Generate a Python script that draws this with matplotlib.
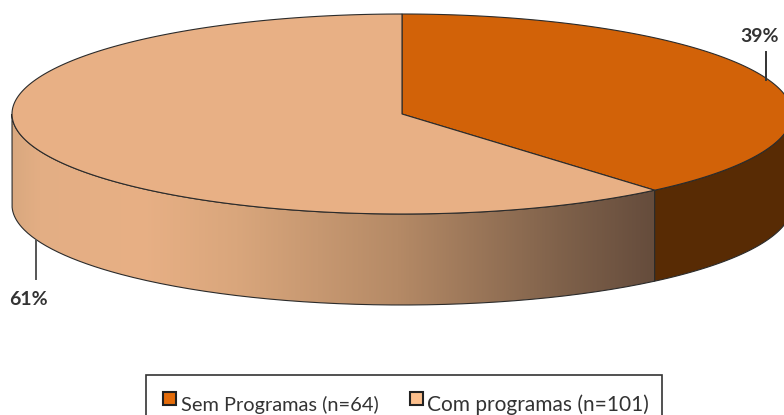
import numpy as np
import matplotlib
matplotlib.use("Agg")
import matplotlib.pyplot as plt
from matplotlib.colors import LinearSegmentedColormap
from matplotlib.patches import Polygon, Rectangle, PathPatch
from matplotlib.path import Path

# Data
labels = ['Sem Programas (n=64)', 'Com programas (n=101)']
counts = [64, 101]
pct_labels = ['39%', '61%']
top_colors = ['#D26208', '#E8B085']
legend_colors = ['#E46C0A', '#FCBF8C']
dark_side = '#582B04'

# Pie geometry in pixels
cx, cy = 402, 114
rx, ry = 390, 100
depth = 91
edge = '#2b2b2b'

plt.rcParams['font.family'] = ['Lato', 'DejaVu Sans']

fig = plt.figure(figsize=(7.84, 4.15), dpi=100)
ax = fig.add_axes([0, 0, 1, 1])
ax.set_xlim(0, 784)
ax.set_ylim(415, 0)
ax.axis('off')


def rim(a0, a1, n=200, dy=0):
    # angles are clockwise from 12 o'clock
    t = np.linspace(a0, a1, n)
    return np.column_stack([cx + rx * np.sin(t), cy - ry * np.cos(t) + dy])


split = 2 * np.pi * counts[0] / sum(counts)

# Sides: only the part of the rim facing the viewer
right_side = np.vstack([rim(np.pi / 2, split), rim(split, np.pi / 2, dy=depth)])
ax.add_patch(Polygon(right_side, closed=True, fc=dark_side, ec=edge, lw=0.8, zorder=2))

left_side = np.vstack([rim(split, 3 * np.pi / 2), rim(3 * np.pi / 2, split, dy=depth)])
cmap = LinearSegmentedColormap.from_list('side', [
    (0.00, '#D9A87F'),
    (0.04, '#E3AE84'),
    (0.20, '#E8B085'),
    (0.35, '#D9A67C'),
    (0.60, '#B58A66'),
    (0.85, '#80624B'),
    (1.00, '#654C3C'),
])
x_left, x_right = cx - rx, cx + rx * np.sin(split)
img = ax.imshow(np.linspace(0, 1, 256).reshape(1, -1), cmap=cmap, aspect='auto', zorder=2,
                extent=[x_left, x_right, cy + ry + depth, cy - ry])
clip = PathPatch(Path(np.vstack([left_side, left_side[:1]])), fc='none', ec=edge, lw=0.8, zorder=3)
ax.add_patch(clip)
img.set_clip_path(clip)
ax.set_xlim(0, 784)
ax.set_ylim(415, 0)

# Top face
top_right = np.vstack([[cx, cy], rim(0, split)])
top_left = np.vstack([[cx, cy], rim(split, 2 * np.pi)])
ax.add_patch(Polygon(top_right, closed=True, fc=top_colors[0], ec=edge, lw=0.8, zorder=4))
ax.add_patch(Polygon(top_left, closed=True, fc=top_colors[1], ec=edge, lw=0.8, zorder=4))

# Leader lines and percentages
ax.plot([766, 766], [52, 80], color='#333333', lw=1.4, zorder=5)
ax.plot([36, 36], [240, 279], color='#555555', lw=1.4, zorder=5)
ax.text(760, 42, pct_labels[0], ha='center', va='baseline', fontsize=14, fontweight='bold',
        color='#333333')
ax.text(28, 305, pct_labels[1], ha='center', va='baseline', fontsize=14, fontweight='bold',
        color='#333333')

# Legend
ax.add_patch(Rectangle((146.5, 375), 516, 50, fc='white', ec='#333333', lw=1.2, zorder=5))
ax.add_patch(Rectangle((163, 392), 13, 13, fc=legend_colors[0], ec='#222222', lw=1.5, zorder=6))
ax.add_patch(Rectangle((410, 392), 13, 13, fc=legend_colors[1], ec='#222222', lw=1.5, zorder=6))
ax.text(181, 411, labels[0], ha='left', va='baseline', fontsize=14.4, color='#333333', zorder=6)
ax.text(427, 411, labels[1], ha='left', va='baseline', fontsize=15, color='#333333', zorder=6)

fig.savefig('out.png', dpi=100)
